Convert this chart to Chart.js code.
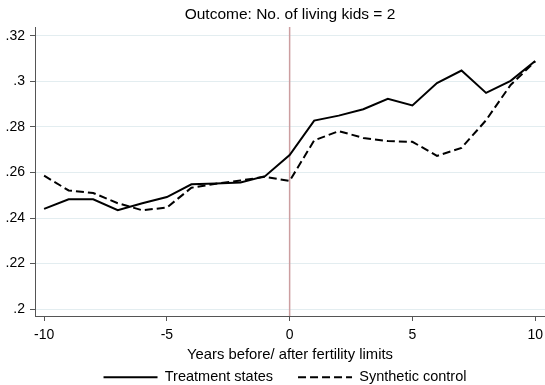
<!DOCTYPE html>
<html>
<head>
<meta charset="utf-8">
<script src="https://cdn.jsdelivr.net/npm/chart.js@4"></script>
<style>
  html, body { margin: 0; padding: 0; background: #fff; }
  #wrap { width: 545px; height: 385px; }
</style>
</head>
<body>
<div id="wrap"><canvas id="c" width="545" height="385"></canvas></div>
<script>
// ---- data ----
const years = [-10,-9,-8,-7,-6,-5,-4,-3,-2,-1,0,1,2,3,4,5,6,7,8,9,10];
const treatment = [0.2440,0.2482,0.2482,0.2434,0.2465,0.2492,0.2548,0.2552,0.2556,0.2584,0.2677,
                   0.2828,0.2850,0.2878,0.2924,0.2895,0.2993,0.3048,0.2950,0.3003,0.3090];
const synthetic = [0.2586,0.2521,0.2510,0.2465,0.2434,0.2446,0.2533,0.2551,0.2565,0.2581,0.2563,
                   0.2741,0.2782,0.2752,0.2738,0.2735,0.2673,0.2708,0.2830,0.2985,0.3088];
const seriesNames = ["Treatment states", "Synthetic control"];
const yTickValues = [0.2, 0.22, 0.24, 0.26, 0.28, 0.3, 0.32];
const yTickLabels = [".2", ".22", ".24", ".26", ".28", ".3", ".32"];
const xTickValues = [-10, -5, 0, 5, 10];
const xTickLabels = ["-10", "-5", "0", "5", "10"];
const treatYear = 0;
const titleText = "Outcome: No. of living kids = 2";
const xTitleText = "Years before/ after fertility limits";

const Y_MIN = 0.19693, Y_MAX = 0.32395;
const X_MIN = -10.37, X_MAX = 10.40;
const FONT = "'Liberation Sans', Arial, Helvetica, sans-serif";

const pts = (xs, ys) => xs.map((x, i) => ({x: x, y: ys[i]}));

// small nudge so the legend sits where Stata centred it
const legendNudge = {
  id: 'legendNudge',
  afterLayout(chart) {
    if (chart.legend) { chart.legend.left -= 5; chart.legend.right -= 5; }
  }
};

new Chart(document.getElementById('c'), {
  type: 'line',
  plugins: [legendNudge],
  data: {
    datasets: [
      {
        label: seriesNames[0],
        data: pts(years, treatment),
        borderColor: '#000',
        backgroundColor: '#000',
        borderWidth: 2,
        pointRadius: 0,
        pointStyle: 'line',
        tension: 0,
        fill: false
      },
      {
        label: seriesNames[1],
        data: pts(years, synthetic),
        borderColor: '#000',
        backgroundColor: '#000',
        borderWidth: 2,
        borderDash: [8, 4],
        pointRadius: 0,
        pointStyle: 'line',
        tension: 0,
        fill: false
      },
      {
        label: 'ref',
        data: [{x: treatYear, y: Y_MIN}, {x: treatYear, y: Y_MAX}],
        borderColor: '#cc9ea0',
        borderWidth: 1.5,
        pointRadius: 0,
        tension: 0,
        fill: false,
        order: 5
      }
    ]
  },
  options: {
    responsive: false,
    animation: false,
    devicePixelRatio: 1,
    layout: { padding: 0, autoPadding: false },
    plugins: {
      tooltip: { enabled: false },
      title: {
        display: true,
        text: titleText,
        fullSize: false,
        color: '#000',
        font: { family: FONT, size: 15.5, weight: 'normal', lineHeight: 1.2 },
        padding: { top: 5, bottom: 3.4 }
      },
      legend: {
        display: true,
        position: 'bottom',
        fullSize: false,
        maxHeight: 40,
        align: 'center',
        labels: {
          usePointStyle: true,
          pointStyle: 'line',
          pointStyleWidth: 54,
          padding: 25,
          color: '#000',
          font: { family: FONT, size: 14.5 },
          generateLabels: (chart) => {
            const items = Chart.defaults.plugins.legend.labels.generateLabels(chart);
            return items.filter(it => it.datasetIndex < 2).map(it => {
              const ds = chart.data.datasets[it.datasetIndex];
              it.lineDash = ds.borderDash || [];
              it.lineWidth = ds.borderWidth;
              it.strokeStyle = ds.borderColor;
              it.pointStyle = 'line';
              return it;
            });
          }
        }
      }
    },
    scales: {
      x: {
        type: 'linear',
        min: X_MIN,
        max: X_MAX,
        afterBuildTicks: (s) => { s.ticks = xTickValues.map(v => ({value: v})); },
        afterFit: (s) => { s.height = 29; s.paddingLeft = 0; s.paddingRight = 0; },
        ticks: {
          autoSkip: false,
          maxRotation: 0,
          padding: 6,
          color: '#000',
          font: { family: FONT, size: 14 },
          callback: (v) => { const i = xTickValues.indexOf(v); return i >= 0 ? xTickLabels[i] : ''; }
        },
        grid: { drawOnChartArea: false, drawTicks: true, tickLength: 5, tickColor: '#555', tickWidth: 1 },
        border: { display: true, color: '#555', width: 1 },
        title: {
          display: true,
          text: xTitleText,
          color: '#000',
          font: { family: FONT, size: 14.8, lineHeight: 1.2 },
          padding: { top: 0, bottom: -19 }
        }
      },
      y: {
        type: 'linear',
        min: Y_MIN,
        max: Y_MAX,
        afterBuildTicks: (s) => { s.ticks = yTickValues.map(v => ({value: v})); },
        afterFit: (s) => { s.width = 35; s.paddingTop = 0; s.paddingBottom = 0; },
        ticks: {
          autoSkip: false,
          padding: 5,
          color: '#000',
          font: { family: FONT, size: 14 },
          callback: (v) => {
            let best = -1, d = 1e9;
            yTickValues.forEach((t, i) => { if (Math.abs(t - v) < d) { d = Math.abs(t - v); best = i; } });
            return d < 1e-6 ? yTickLabels[best] : '';
          }
        },
        grid: { drawOnChartArea: true, color: '#e3edf0', lineWidth: 1, drawTicks: true, tickLength: 5, tickColor: '#555', tickWidth: 1 },
        border: { display: true, color: '#555', width: 1 }
      }
    }
  }
});
</script>
</body>
</html>
